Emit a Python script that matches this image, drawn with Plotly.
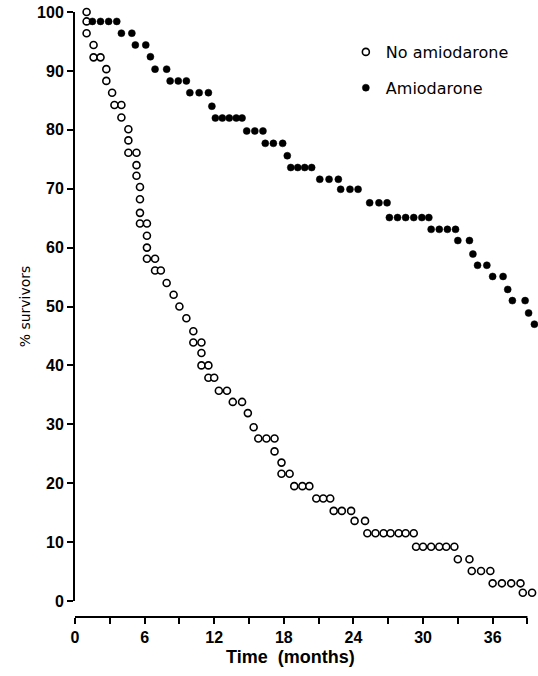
import plotly.graph_objects as go

# ---- data (months, % survivors) ----
no_amio_months = [1.0, 1.0, 1.0, 1.6, 1.6, 2.2, 2.7, 2.7, 3.2, 3.4, 4.0, 4.0, 4.6, 4.6, 4.6, 5.3,
                  5.3, 5.3, 5.6, 5.6, 5.6, 5.6, 6.2, 6.2, 6.2, 6.2, 6.9, 6.9, 7.4, 7.9, 8.5, 9.0,
                  9.6, 10.2, 10.2, 10.9, 10.9, 10.9, 11.5, 11.5, 12.0, 12.4, 13.1, 13.6, 14.4,
                  14.9, 15.4, 15.8, 16.5, 17.2, 17.2, 17.8, 17.8, 18.5, 18.9, 19.6, 20.2,
                  20.8, 21.4, 22.0, 22.3, 23.0, 23.8, 24.1, 25.0,
                  25.2, 25.9, 26.6, 27.2, 27.9, 28.5, 29.2,
                  29.4, 30.0, 30.7, 31.4, 32.0, 32.7, 33.0, 34.0,
                  34.2, 35.0, 35.8, 36.0, 36.8, 37.6, 38.4, 38.6, 39.4]
no_amio_pct = [100, 98.4, 96.4, 94.4, 92.3, 92.3, 90.3, 88.3, 86.3, 84.2, 84.2, 82.1, 80.1, 78.2, 76.1, 76.1,
               74.0, 72.2, 70.3, 68.2, 65.9, 64.1, 64.1, 62.0, 60.0, 58.1, 58.1, 56.1, 56.1, 54.0, 52.0, 50.0,
               48.0, 45.8, 43.9, 43.9, 42.1, 40.0, 40.0, 37.9, 37.9, 35.7, 35.7, 33.8, 33.8,
               31.9, 29.5, 27.6, 27.6, 27.6, 25.4, 23.5, 21.6, 21.6, 19.5, 19.5, 19.5,
               17.4, 17.4, 17.4, 15.3, 15.3, 15.3, 13.6, 13.6,
               11.5, 11.5, 11.5, 11.5, 11.5, 11.5, 11.5,
               9.2, 9.2, 9.2, 9.2, 9.2, 9.2, 7.1, 7.1,
               5.1, 5.1, 5.1, 3.0, 3.0, 3.0, 3.0, 1.4, 1.4]

amio_months = [1.5, 2.2, 2.9, 3.6, 4.0, 4.9, 5.2, 6.1, 6.5, 6.9, 7.9, 8.2, 8.9, 9.6,
               9.9, 10.7, 11.5, 11.8, 12.1, 12.7, 13.3, 13.9, 14.4, 14.8, 15.5, 16.2,
               16.4, 17.1, 17.9, 18.3, 18.6, 19.2, 19.8, 20.4, 21.1, 21.9, 22.7,
               22.9, 23.7, 24.4, 25.4, 26.2, 26.9, 27.1, 27.8, 28.5, 29.2, 29.9, 30.5,
               30.7, 31.4, 32.1, 32.8, 33.0, 34.0, 34.3, 34.7, 35.5, 36.0, 36.9,
               37.3, 37.7, 38.8, 39.1, 39.6]
amio_pct = [98.4, 98.4, 98.4, 98.4, 96.4, 96.4, 94.4, 94.4, 92.4, 90.3, 90.3, 88.3, 88.3, 88.3,
            86.3, 86.3, 86.3, 84.0, 82.0, 82.0, 82.0, 82.0, 82.0, 79.8, 79.8, 79.8,
            77.7, 77.7, 77.7, 75.6, 73.6, 73.6, 73.6, 73.6, 71.6, 71.6, 71.6,
            69.9, 69.9, 69.9, 67.6, 67.6, 67.6, 65.1, 65.1, 65.1, 65.1, 65.1, 65.1,
            63.1, 63.1, 63.1, 63.1, 61.2, 61.2, 58.9, 57.0, 57.0, 55.1, 55.1,
            52.9, 51.0, 51.0, 48.9, 47.0]

x_tick_vals = [0, 6, 12, 18, 24, 30, 36]
y_tick_vals = [0, 10, 20, 30, 40, 50, 60, 70, 80, 90, 100]
x_axis_end = 39
x_view_max = 39.91

fig = go.Figure()
fig.add_trace(go.Scatter(
    x=no_amio_months, y=no_amio_pct, mode="markers", name="No amiodarone",
    legendgroup="a",
    marker=dict(symbol="circle", size=7, color="white", line=dict(color="black", width=1.6)),
    cliponaxis=False))
fig.add_trace(go.Scatter(
    x=amio_months, y=amio_pct, mode="markers", name="Amiodarone",
    legendgroup="b",
    marker=dict(symbol="circle", size=7, color="black", line=dict(color="black", width=0.5)),
    cliponaxis=False))

tick_font = dict(family="Liberation Sans, Arial, sans-serif", size=16, color="black", weight="bold")

# detached x-axis line, ending at month 39 like the original
fig.add_shape(type="line", xref="x", yref="paper", x0=0, x1=x_axis_end, y0=0, y1=0,
              line=dict(color="black", width=2))

fig.add_annotation(text="Time  (months)", xref="paper", yref="paper",
                   x=0.4665, y=-0.066, xanchor="center", yanchor="middle", showarrow=False,
                   font=dict(family="Liberation Sans, Arial, sans-serif", size=18,
                             color="black", weight="bold"))

fig.update_layout(
    width=538, height=676,
    margin=dict(l=75, r=0, t=12, b=59, autoexpand=False),
    paper_bgcolor="white", plot_bgcolor="white",
    showlegend=True,
    legend=dict(x=0.585, y=0.962, xanchor="left", yanchor="top",
                font=dict(family="DejaVu Sans, sans-serif", size=16, color="black"),
                tracegroupgap=12, bgcolor="rgba(0,0,0,0)", itemwidth=30),
    xaxis=dict(range=[0, x_view_max], anchor="free", position=0,
               tickvals=x_tick_vals, ticktext=[str(v) for v in x_tick_vals],
               ticks="outside", ticklen=6, tickwidth=1.5, tickcolor="black",
               minor=dict(dtick=3, tick0=0, ticks="outside", ticklen=6, tickwidth=1.5, tickcolor="black"),
               showline=False, showgrid=False, zeroline=False,
               tickfont=tick_font,
               automargin=False),
    yaxis=dict(range=[0, 100], domain=[16 / 605, 1],
               tickvals=y_tick_vals, ticks="outside", ticklen=6, tickwidth=1.5, tickcolor="black",
               showline=True, linecolor="black", linewidth=2, showgrid=False, zeroline=False,
               tickfont=tick_font,
               title=dict(text="% survivors", standoff=3,
                          font=dict(family="DejaVu Sans, sans-serif", size=14, color="black")),
               automargin=False),
)

fig.write_html("out.html")
